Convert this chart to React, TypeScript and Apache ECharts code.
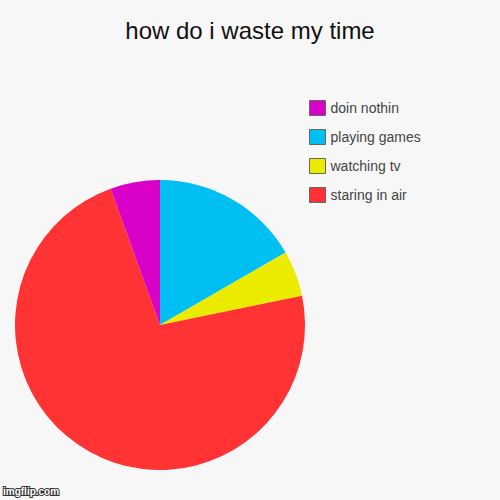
import React, { useEffect, useRef } from "react";
import * as echarts from "echarts";

const categories = ["playing games", "watching tv", "staring in air", "doin nothin"];
const values = [60, 18.4, 261.7, 19.9];
const colors = ["#00bff3", "#ebeb00", "#ff3333", "#d900c8"];
const legendOrder = ["doin nothin", "playing games", "watching tv", "staring in air"];
const titleText = "how do i waste my time";

export default function App() {
  const ref = useRef<HTMLDivElement>(null);
  useEffect(() => {
    if (!ref.current) return;
    const chart = echarts.init(ref.current, null, { renderer: "svg" });
    chart.setOption({
      animation: false,
      backgroundColor: "#f7f7f7",
      title: {
        text: titleText,
        left: "center",
        top: 13,
        textStyle: {
          fontFamily: "Liberation Sans, Arial, sans-serif",
          fontSize: 24,
          fontWeight: "normal",
          color: "#111",
        },
      },
      legend: {
        orient: "vertical",
        left: 304,
        top: 95,
        itemWidth: 16,
        itemHeight: 15,
        itemGap: 13,
        icon: "rect",
        data: legendOrder,
        selectedMode: false,
        itemStyle: { borderColor: "#666", borderWidth: 1 },
        textStyle: {
          fontFamily: "Liberation Sans, Arial, sans-serif",
          fontSize: 14,
          lineHeight: 15,
          color: "#444",
        },
      },
      series: [
        {
          type: "pie",
          center: [160, 325],
          radius: 145,
          startAngle: 90,
          clockwise: true,
          label: { show: false },
          labelLine: { show: false },
          emphasis: { disabled: true },
          itemStyle: { borderWidth: 0 },
          data: categories.map((name, i) => ({
            name,
            value: values[i],
            itemStyle: { color: colors[i] },
          })),
        },
      ],
      graphic: [
        {
          type: "text",
          left: 2,
          top: 485,
          style: {
            text: "imgflip.com",
            font: "bold 10px Liberation Sans, Arial, sans-serif",
            fill: "#ffffff",
            stroke: "#333",
            lineWidth: 2,
          },
        },
      ],
    });
    return () => chart.dispose();
  }, []);
  return (
    <div
      ref={ref}
      style={{ position: "fixed", left: 0, top: 0, width: 500, height: 500 }}
    />
  );
}
